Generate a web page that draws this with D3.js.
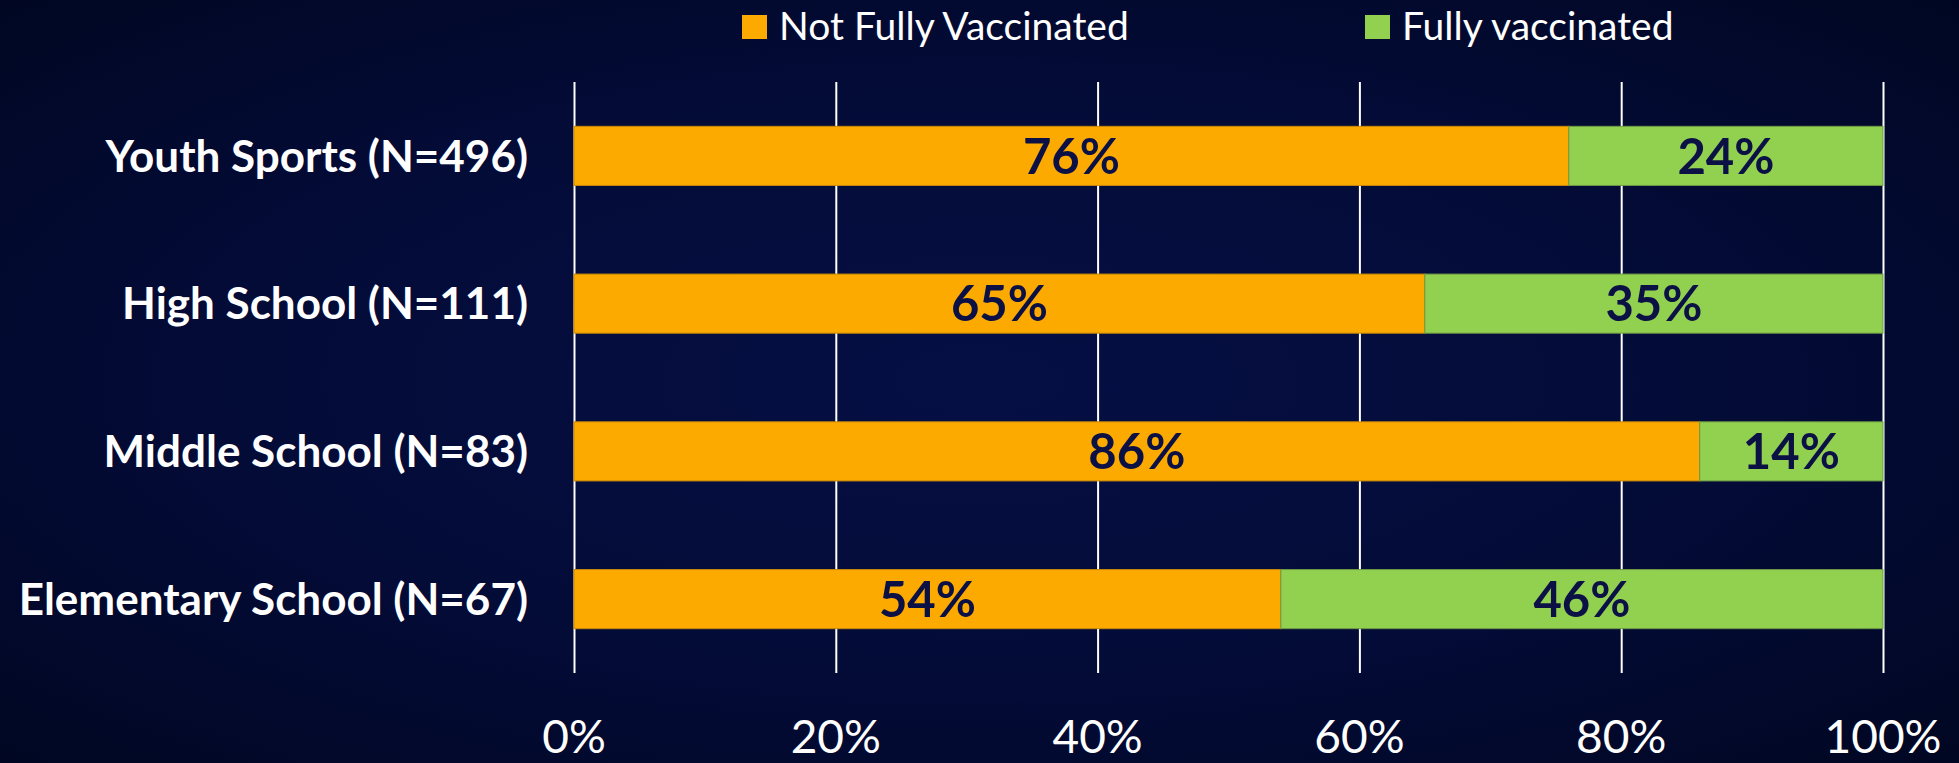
<!DOCTYPE html>
<html>
<head>
<meta charset="utf-8">
<script src="https://cdn.jsdelivr.net/npm/d3@7"></script>
<style>
  html, body { margin: 0; padding: 0; background: #010828; }
  svg { display: block; }
</style>
</head>
<body>
<div id="chart"></div>
<script>
// chart data
const categories = ["Youth Sports (N=496)", "High School (N=111)", "Middle School (N=83)", "Elementary School (N=67)"];
const notFully = [76, 65, 86, 54];
const fully = [24, 35, 14, 46];
const seriesNames = ["Not Fully Vaccinated", "Fully vaccinated"];
const tickValues = [0, 20, 40, 60, 80, 100];

const W = 1959, H = 763;
const colors = ["#FDAA00", "#92D050"];
const strokes = ["#c98a08", "#6f9a45"];
const font = "Lato, 'Open Sans', sans-serif";

const svg = d3.select("#chart").append("svg")
    .attr("width", W)
    .attr("height", H);

// background
const defs = svg.append("defs");
const grad = defs.append("radialGradient")
    .attr("id", "bg")
    .attr("cx", "50%").attr("cy", "50%").attr("r", "75%");
grad.append("stop").attr("offset", "0%").attr("stop-color", "#060f44");
grad.append("stop").attr("offset", "55%").attr("stop-color", "#030b36");
grad.append("stop").attr("offset", "100%").attr("stop-color", "#00061f");
svg.append("rect").attr("width", W).attr("height", H).attr("fill", "url(#bg)");

let x = d3.scaleLinear().domain([0, 100]).range([574, 1883]);
let y = d3.scaleBand().domain(categories).range([82, 673]).paddingInner(0.6).paddingOuter(0.3);

// gridlines
svg.append("g")
    .attr("transform", "translate(0,673)")
    .call(d3.axisBottom(x).tickValues(tickValues).tickSize(-(673 - 82)).tickFormat(""))
    .call(g => g.select(".domain").remove())
    .selectAll("line")
    .attr("stroke", "#ffffff")
    .attr("stroke-width", 2);

// bars
const rows = categories.map((c, i) => ({ cat: c, vals: [notFully[i], fully[i]] }));
const stacks = [];
rows.forEach(r => {
    let acc = 0;
    r.vals.forEach((v, k) => {
        stacks.push({ cat: r.cat, k: k, x0: acc, x1: acc + v, v: v });
        acc += v;
    });
});

svg.selectAll("rect.bar")
    .data(stacks).enter()
    .append("rect")
    .attr("class", "bar")
    .attr("x", d => x(d.x0))
    .attr("y", d => y(d.cat))
    .attr("width", d => x(d.x1) - x(d.x0))
    .attr("height", y.bandwidth())
    .attr("fill", d => colors[d.k])
    .attr("stroke", d => strokes[d.k])
    .attr("stroke-width", 1);

svg.selectAll("text.val")
    .data(stacks).enter()
    .append("text")
    .attr("class", "val")
    .attr("x", d => (x(d.x0) + x(d.x1)) / 2)
    .attr("y", d => y(d.cat) + y.bandwidth() / 2)
    .attr("dy", "0.36em")
    .attr("text-anchor", "middle")
    .attr("font-family", font)
    .attr("font-weight", "bold")
    .attr("font-size", 49)
    .attr("fill", "#0b1045")
    .text(d => d.v + "%");

// category labels
svg.selectAll("text.cat")
    .data(categories).enter()
    .append("text")
    .attr("class", "cat")
    .attr("x", 528)
    .attr("y", d => y(d) + y.bandwidth() / 2)
    .attr("dy", "0.36em")
    .attr("text-anchor", "end")
    .attr("font-family", font)
    .attr("font-weight", "bold")
    .attr("font-size", 44)
    .attr("fill", "#ffffff")
    .text(d => d);

// x tick labels
svg.selectAll("text.tick")
    .data(tickValues).enter()
    .append("text")
    .attr("class", "tick")
    .attr("x", d => x(d))
    .attr("y", 753)
    .attr("text-anchor", "middle")
    .attr("font-family", font)
    .attr("font-size", 46)
    .attr("fill", "#ffffff")
    .text(d => d + "%");

// legend
const legendX = [742, 1365];
const legend = svg.selectAll("g.legend")
    .data(seriesNames).enter()
    .append("g")
    .attr("class", "legend")
    .attr("transform", (d, i) => "translate(" + legendX[i] + ",15)");
legend.append("rect")
    .attr("width", 25).attr("height", 24)
    .attr("fill", (d, i) => colors[i]);
legend.append("text")
    .attr("x", 37)
    .attr("y", 25)
    .attr("font-family", font)
    .attr("font-size", 39)
    .attr("fill", "#ffffff")
    .text(d => d);
</script>
</body>
</html>
